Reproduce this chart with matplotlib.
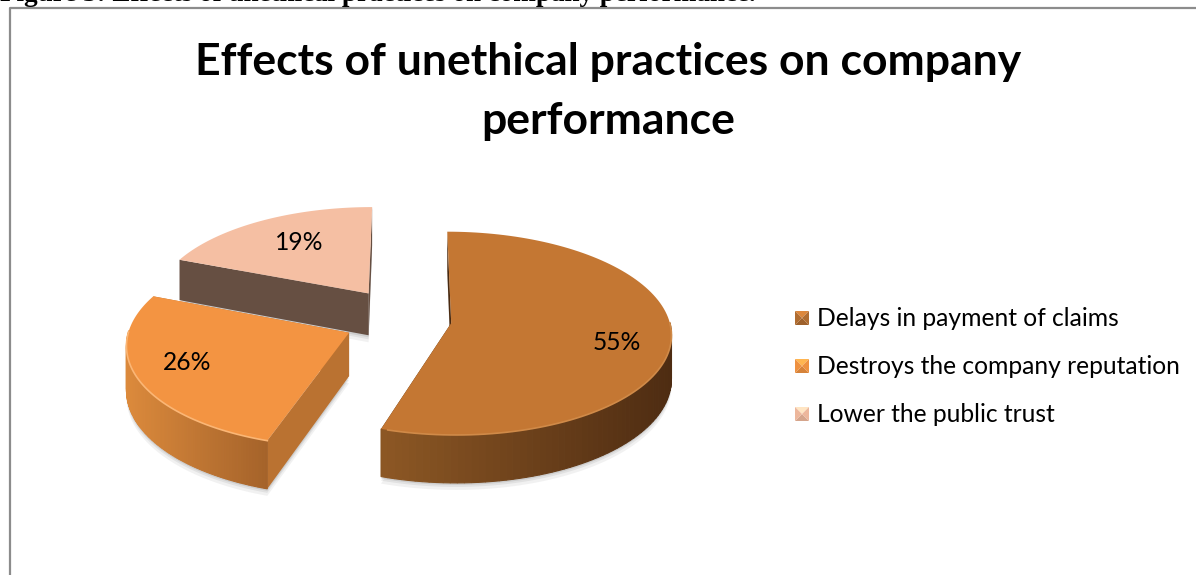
import numpy as np
import matplotlib
matplotlib.use("Agg")
import matplotlib.pyplot as plt
from matplotlib.patches import Polygon

# data
categories = ["Delays in payment of claims", "Destroys the company reputation", "Lower the public trust"]
shares = [55, 26, 19]
labels = ["55%", "26%", "19%"]
title_lines = ["Effects of unethical practices on company", "performance"]
caption = "Figure 3: Effects of unethical practices on company performance."

# look of each slice
top_cols = ["#C47733", "#F39442", "#F5BFA3"]
side_left = ["#8C5724", "#DC8A3C", "#664F42"]
side_right = ["#4E2C12", "#A5632A", "#664F42"]
cut_cols = ["#4A2A10", "#BA7231", "#664F42"]
rim_cols = ["#D08A48", "#FBB675", "#F7CDB6"]
explode = [0.2, 0.295, 0.33]
legend_cols = ["#B06C30", "#EE9140", "#EDB79C"]

# fake 3d projection, all in image pixels
X0, Y0 = 408, 320
RX, RY = 218, 100
K = 0.1
DEPTH = 43
START = 0


def proj(X, Y, z=0):
    s = 1 / (1 + K * Y)
    return X0 + RX * X * s, Y0 - RY * Y * s + DEPTH * z * s


def lerp(c1, c2, t):
    a = np.array(matplotlib.colors.to_rgb(c1))
    b = np.array(matplotlib.colors.to_rgb(c2))
    return a + (b - a) * t


fig = plt.figure(figsize=(11.96, 5.75), dpi=100)
ax = fig.add_axes([0, 0, 1, 1])
ax.set_xlim(0, 1196)
ax.set_ylim(575, 0)
ax.axis("off")

# frame (open at the bottom and right, picture is cropped there)
ax.plot([10, 10, 1196], [575, 8, 8], color="#8C8C8C", lw=1.6)

# slices, back to front
angles = START + np.cumsum([0] + shares) * 3.6
slices = []
for i in range(3):
    a1, a2 = angles[i], angles[i + 1]
    mid = np.radians((a1 + a2) / 2)
    ax0 = explode[i] * np.sin(mid)
    ay0 = explode[i] * np.cos(mid)
    th = np.radians(np.linspace(a1, a2, 120))
    slices.append((ax0 + np.sin(th), ay0 + np.cos(th), ax0, ay0, mid))

for i in [2, 0, 1]:
    xs, ys, ax0, ay0, mid = slices[i]
    tx, ty = proj(xs, ys)
    bx, by = proj(xs, ys, 1)
    cx, cy = proj(ax0, ay0)
    cbx, cby = proj(ax0, ay0, 1)

    # soft shadow under the outer wall
    for off, alpha in [(7, 0.08), (4, 0.10), (2, 0.14)]:
        ax.add_patch(Polygon(np.c_[np.r_[bx, cbx], np.r_[by, cby] + off], fc="#555555", ec="none",
                             alpha=alpha, zorder=1 + i))

    z = 3 + i * 2
    # wall on the start side (only a sliver shows)
    ax.add_patch(Polygon([(cx, cy), (tx[0], ty[0]), (bx[0], by[0]), (cbx, cby)],
                         fc=cut_cols[i], ec="none", zorder=z))
    # wall on the end side
    ax.add_patch(Polygon([(cx, cy), (tx[-1], ty[-1]), (bx[-1], by[-1]), (cbx, cby)],
                         fc=cut_cols[i], ec="none", zorder=z))
    # outer wall with gradient, only the part facing us
    front = np.where(ys[:-1] - ay0 < 0.02)[0]
    if len(front) > 0:
        x_lo, x_hi = tx[front].min(), tx[front].max()
        for j in front:
            t = (tx[j] - x_lo) / max(x_hi - x_lo, 1)
            col = lerp(side_left[i], side_right[i], t)
            ax.add_patch(Polygon([(tx[j], ty[j]), (tx[j + 1], ty[j + 1]), (bx[j + 1], by[j + 1]), (bx[j], by[j])],
                                 fc=col, ec=col, lw=0.8, zorder=z))
        ax.plot(tx[front], ty[front], color=rim_cols[i], lw=1.2, zorder=z + 2)
    # top face
    ax.add_patch(Polygon(np.c_[np.r_[tx, cx], np.r_[ty, cy]], fc=top_cols[i], ec="none", zorder=z + 1))

# percent labels
label_pos = [(617, 343), (187, 363), (299, 242)]
for lab, (lx, ly) in zip(labels, label_pos):
    ax.text(lx, ly, lab, fontsize=17.7, family="Lato", ha="center", va="center", color="black", zorder=20)

# title
ax.text(608, 62, title_lines[0], fontsize=32, family="Lato", weight="bold", ha="center", va="center")
ax.text(608, 121, title_lines[1], fontsize=32, family="Lato", weight="bold", ha="center", va="center")

# caption cut by the image top
ax.text(0, 1, caption, fontsize=19.5, family="Liberation Serif", weight="bold", ha="left", va="baseline")

# legend with bevelled squares
for i, row_y in enumerate([318, 366, 414]):
    x1, x2, y1, y2 = 795, 809, row_y - 7, row_y + 7
    mx, my = (x1 + x2) / 2, (y1 + y2) / 2
    base = np.array(matplotlib.colors.to_rgb(legend_cols[i]))
    ax.add_patch(Polygon([(x1, y1), (x2, y1), (mx, my)], fc=np.clip(base * 1.25, 0, 1), ec="none"))
    ax.add_patch(Polygon([(x1, y2), (x2, y2), (mx, my)], fc=base * 0.9, ec="none"))
    ax.add_patch(Polygon([(x1, y1), (x1, y2), (mx, my)], fc=base, ec="none"))
    ax.add_patch(Polygon([(x2, y1), (x2, y2), (mx, my)], fc=base, ec="none"))
    ax.text(817, row_y + 1, categories[i], fontsize=17.7, family="Lato", ha="left", va="center")

fig.savefig("out.png", dpi=100)
